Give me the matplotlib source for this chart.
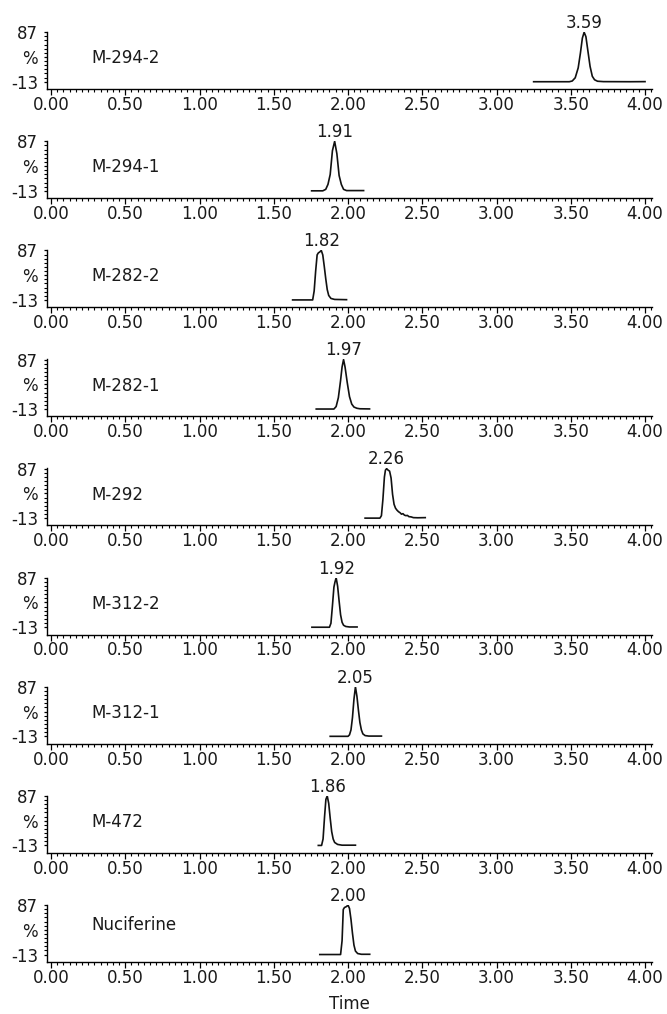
import numpy as np
import matplotlib.pyplot as plt
from matplotlib.ticker import MultipleLocator, FixedLocator

# retention-time traces, time in min, intensity in %
names = ['M-294-2', 'M-294-1', 'M-282-2', 'M-282-1', 'M-292',
         'M-312-2', 'M-312-1', 'M-472', 'Nuciferine']
rts = [3.59, 1.91, 1.82, 1.97, 2.26, 1.92, 2.05, 1.86, 2.00]

t_294_2 = [3.25, 3.49, 3.51, 3.53, 3.55, 3.565, 3.578, 3.59, 3.602, 3.615, 3.63, 3.645, 3.66, 3.68, 3.72, 3.90, 4.00]
y_294_2 = [-13, -13, -11.5, -5, 15, 45, 75, 87, 78, 50, 18, -2, -9, -12, -12.8, -13, -12.8]

t_294_1 = [1.755, 1.83, 1.85, 1.865, 1.88, 1.895, 1.91, 1.925, 1.94, 1.955, 1.97, 1.99, 2.105]
y_294_1 = [-13, -13, -10, 0, 20, 68, 87, 62, 18, 0, -10, -12.5, -12.5]

t_282_2 = [1.627, 1.762, 1.772, 1.782, 1.792, 1.80, 1.81, 1.82, 1.83, 1.84, 1.85, 1.86, 1.87, 1.885, 1.91, 1.99]
y_282_2 = [-13, -13, 5, 45, 78, 82, 84, 87, 78, 55, 30, 8, -4, -10, -12, -12.5]

t_282_1 = [1.786, 1.905, 1.92, 1.935, 1.95, 1.96, 1.97, 1.98, 1.995, 2.01, 2.025, 2.04, 2.06, 2.08, 2.145]
y_282_1 = [-13, -13, -8, 10, 45, 72, 87, 72, 40, 12, -3, -9, -11.5, -12.5, -12.8]

t_292 = [2.115, 2.215, 2.225, 2.235, 2.245, 2.252, 2.26, 2.27, 2.28, 2.29, 2.30, 2.31, 2.32,
         2.33, 2.34, 2.35, 2.36, 2.37, 2.38, 2.39, 2.40, 2.41, 2.425, 2.44, 2.47, 2.52]
y_292 = [-13, -13, -8, 25, 70, 84, 87, 84, 82, 68, 35, 15, 7,
         3, 0, -2, -5, -4, -7, -8, -7.5, -10, -10.5, -12, -12.3, -12]

t_312_2 = [1.757, 1.875, 1.885, 1.895, 1.905, 1.912, 1.92, 1.93, 1.94, 1.95, 1.96, 1.97, 1.985, 2.01, 2.061]
y_312_2 = [-13, -13, -5, 30, 68, 78, 87, 70, 40, 12, -3, -9, -11.5, -12.5, -12.5]

t_312_1 = [1.88, 2.00, 2.01, 2.02, 2.03, 2.04, 2.05, 2.06, 2.07, 2.08, 2.09, 2.10, 2.115, 2.14, 2.225]
y_312_1 = [-13, -13, -10, 0, 25, 62, 87, 68, 40, 15, 0, -8, -11.5, -12.5, -12.5]

t_472 = [1.80, 1.822, 1.832, 1.842, 1.851, 1.86, 1.87, 1.88, 1.89, 1.90, 1.91, 1.93, 1.96, 2.05]
y_472 = [-13, -13, 0, 45, 80, 87, 72, 42, 15, 0, -7, -11, -12.5, -12.5]

t_nuc = [1.81, 1.95, 1.96, 1.968, 1.976, 1.99, 2.00, 2.01, 2.02, 2.03, 2.04, 2.05, 2.065, 2.09, 2.146]
y_nuc = [-13, -13, 15, 78, 82, 84, 87, 80, 58, 30, 6, -6, -11, -12.5, -12.5]

traces = [(t_294_2, y_294_2), (t_294_1, y_294_1), (t_282_2, y_282_2), (t_282_1, y_282_1),
          (t_292, y_292), (t_312_2, y_312_2), (t_312_1, y_312_1), (t_472, y_472), (t_nuc, y_nuc)]

W, H = 667, 1014
fig = plt.figure(figsize=(W / 100, H / 100), dpi=100)
plt.rcParams['font.family'] = 'DejaVu Sans'

txt = '#1a1a1a'
fs = 12
left, right = 47, 652
ax_h = 57
for k, (name, rt, (tt, yy)) in enumerate(zip(names, rts, traces)):
    base = 89 + 109.1 * k
    ax = fig.add_axes([left / W, 1 - base / H, (right - left) / W, ax_h / H])
    ax.plot(tt, yy, color='#111111', lw=1.2)
    ax.set_xlim(-0.027, 4.047)
    ax.set_ylim(-27.7, 87.5)
    for s in ['top', 'right']:
        ax.spines[s].set_visible(False)
    for s in ['left', 'bottom']:
        ax.spines[s].set_linewidth(1.0)
    ax.xaxis.set_major_locator(MultipleLocator(0.5))
    ax.xaxis.set_minor_locator(MultipleLocator(0.5 / 12))
    ax.xaxis.set_major_formatter(lambda v, p: f'{v:.2f}')
    ax.set_yticks([87, 37, -13])
    ax.set_yticklabels(['87', '%', '-13'])
    ax.yaxis.set_minor_locator(FixedLocator(np.arange(-13, 88, 100 / 12)))
    ax.tick_params(axis='x', which='major', length=4, width=0.9, pad=1, labelsize=fs, labelcolor=txt)
    ax.tick_params(axis='x', which='minor', length=2.5, width=0.8)
    ax.tick_params(axis='y', which='major', length=2.5, width=0.9, pad=4, labelsize=fs, labelcolor=txt)
    ax.tick_params(axis='y', which='minor', length=2, width=0.8)
    ty = 0.64 if name == 'Nuciferine' else 0.54
    ax.text(0.074, ty, name, transform=ax.transAxes, fontsize=fs,
            color=txt, ha='left', va='center')
    ax.annotate(f'{rt:.2f}', xy=(rt, max(yy)), xytext=(0, 3), textcoords='offset points',
                ha='center', va='baseline', fontsize=fs, color=txt,
                annotation_clip=False)
    if k == len(names) - 1:
        ax.set_xlabel('Time', fontsize=fs, color=txt, labelpad=6)

fig.savefig('out.png', dpi=100)
